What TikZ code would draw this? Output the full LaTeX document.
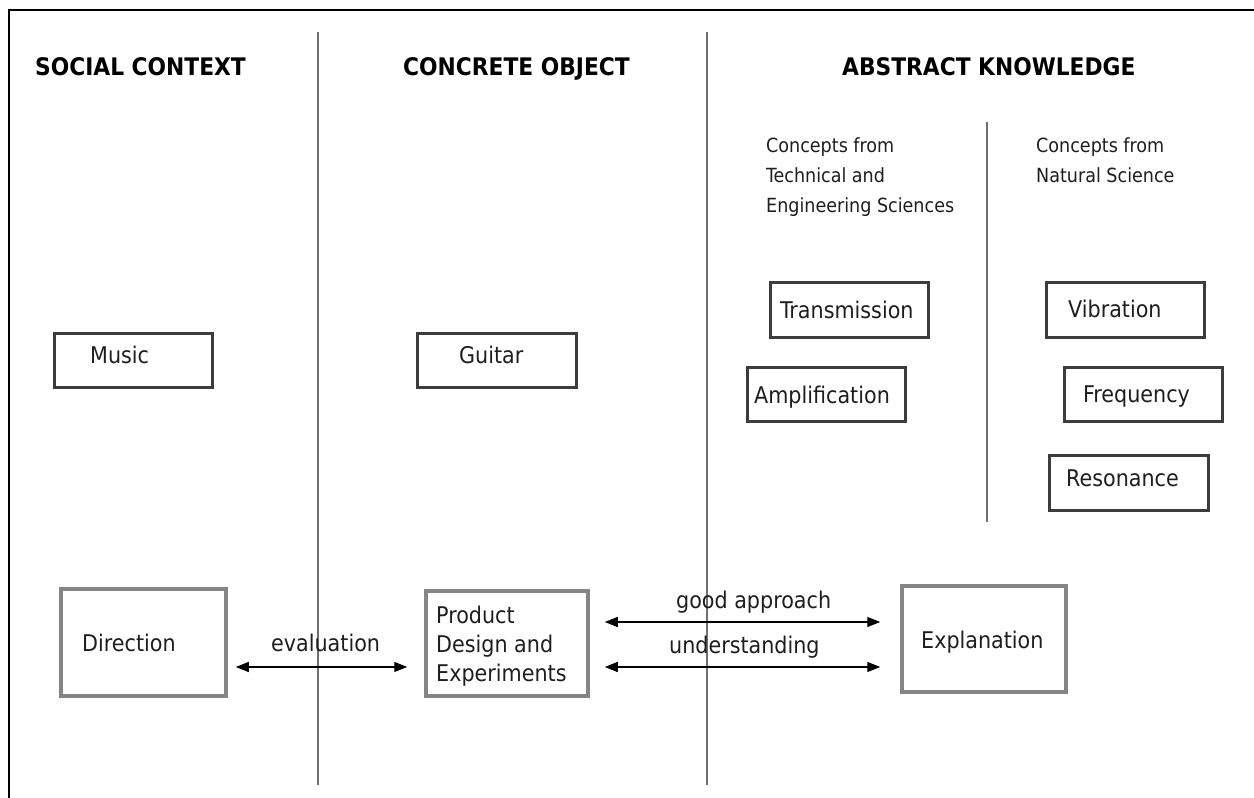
\documentclass[tikz,border=0pt]{standalone}
\usepackage{fontspec}
\setmainfont{DejaVu Sans Condensed}
\usetikzlibrary{arrows.meta}
\definecolor{boxdark}{HTML}{3C3C3C}
\definecolor{boxgray}{HTML}{858585}
\definecolor{linegray}{HTML}{707070}
\definecolor{txt}{HTML}{1E1E1E}
\begin{document}
\begin{tikzpicture}[x=1pt,y=-1pt,
  darkbox/.style={draw=boxdark,line width=3pt,inner sep=0pt},
  graybox/.style={draw=boxgray,line width=3.5pt,inner sep=0pt},
  lbl/.style={anchor=base west,inner sep=0pt,text=txt,font=\fontsize{23}{29}\selectfont},
  sub/.style={anchor=base west,inner sep=0pt,text=txt,font=\fontsize{19.5}{30}\selectfont},
  hdr/.style={anchor=base west,inner sep=0pt,text=black,font=\fontsize{24.2}{28}\selectfont\bfseries},
  sep/.style={draw=linegray,line width=1.5pt},
  dbl/.style={draw=black,line width=1.3pt,{Stealth[length=13pt,width=10pt,inset=0pt]}-{Stealth[length=13pt,width=10pt,inset=0pt]}}]
\useasboundingbox (0,0) rectangle (1254,798);
% frame
\draw[black,line width=1.5pt] (9,798) -- (9,10) -- (1254,10);
% separators
\draw[sep] (318,32) -- (318,785);
\draw[sep] (707,32) -- (707,785);
\draw[sep] (987,122) -- (987,522);
% headers
\node[hdr] (h1) at (35,75) {SOCIAL CONTEXT};
\node[hdr] (h2) at (403,75) {CONCRETE OBJECT};
\node[hdr] (h3) at (842,75) {ABSTRACT KNOWLEDGE};
% sub headers
\node[sub] (s1a) at (766,152) {Concepts from};
\node[sub] (s1b) at (766,182) {Technical and};
\node[sub] (s1c) at (766,212) {Engineering Sciences};
\node[sub] (s2a) at (1036,152) {Concepts from};
\node[sub] (s2b) at (1036,182) {Natural Science};
% boxes
\node[darkbox,minimum width=158pt,minimum height=54pt] (music) at (133.5,360.5) {};
\node[lbl] (musict) at (90,363) {Music};
\node[darkbox,minimum width=159pt,minimum height=54pt] (guitar) at (497,360.5) {};
\node[lbl] (guitart) at (459,363) {Guitar};
\node[darkbox,minimum width=158pt,minimum height=55pt] (trans) at (849.5,310) {};
\node[lbl] (transt) at (780,318) {Transmission};
\node[darkbox,minimum width=158pt,minimum height=54pt] (ampl) at (826.5,394.5) {};
\node[lbl] (amplt) at (754,403) {Amplification};
\node[darkbox,minimum width=158pt,minimum height=55pt] (vib) at (1125.5,310) {};
\node[lbl] (vibt) at (1068,317) {Vibration};
\node[darkbox,minimum width=158pt,minimum height=54pt] (freq) at (1143.5,394.5) {};
\node[lbl] (freqt) at (1083,402) {Frequency};
\node[darkbox,minimum width=159pt,minimum height=55pt] (reso) at (1129,483) {};
\node[lbl] (resot) at (1066,486) {Resonance};
\node[graybox,minimum width=165pt,minimum height=107pt] (direction) at (143.5,642.5) {};
\node[lbl] (directiont) at (82,651) {Direction};
\node[graybox,minimum width=162pt,minimum height=105pt] (product) at (507,643.5) {};
\node[lbl] (prod1) at (436,623) {Product};
\node[lbl] (prod2) at (436,652) {Design and};
\node[lbl] (prod3) at (436,681) {Experiments};
\node[graybox,minimum width=164pt,minimum height=106pt] (explanation) at (984,639) {};
\node[lbl] (explt) at (921,648) {Explanation};
% arrows
\draw[dbl,shorten <=8pt,shorten >=17pt] (direction.east |- 0,667) -- (product.west |- 0,667);
\node[lbl] (evalt) at (271,651) {evaluation};
\draw[dbl,shorten <=15pt,shorten >=20pt] (product.east |- 0,622) -- (explanation.west |- 0,622);
\node[lbl] (goodt) at (676,608) {good approach};
\draw[dbl,shorten <=15pt,shorten >=20pt] (product.east |- 0,667) -- (explanation.west |- 0,667);
\node[lbl] (undt) at (669,653) {understanding};
\end{tikzpicture}
\end{document}
